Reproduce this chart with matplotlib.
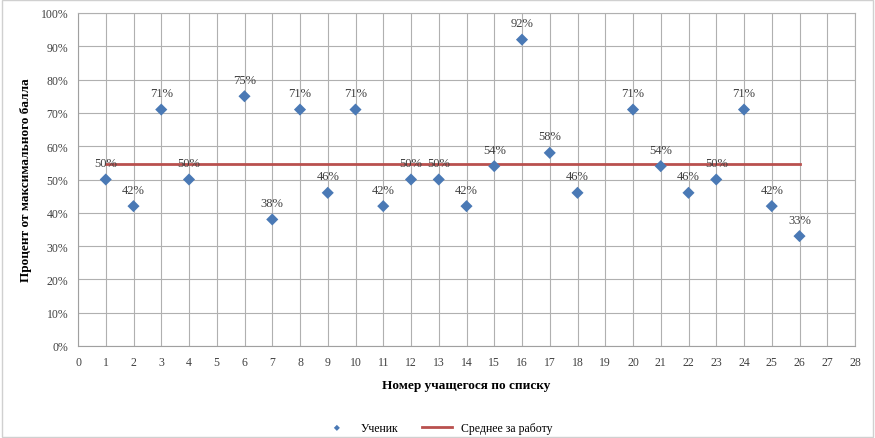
import numpy as np
import matplotlib.pyplot as plt
from matplotlib.ticker import PercentFormatter, MultipleLocator

plt.rcParams['font.family'] = ['Liberation Serif', 'DejaVu Serif']

# номер ученика и процент от максимального балла
students = [1, 2, 3, 4, 6, 7, 8, 9, 10, 11, 12, 13, 14, 15, 16, 17, 18, 20, 21, 22, 23, 24, 25, 26]
scores = [50, 42, 71, 50, 75, 38, 71, 46, 71, 42, 50, 50, 42, 54, 92, 58, 46, 71, 54, 46, 50, 71, 42, 33]
mean_range = [1, 26]

mean_score = np.mean(scores)

fig = plt.figure(figsize=(8.75, 4.39), dpi=100)
ax = fig.add_axes([78 / 875, 1 - 347 / 439, 777 / 875, 333 / 439])

ax.plot(mean_range, [mean_score, mean_score], color='#B9504E', linewidth=2,
        label='Среднее за работу', zorder=2)
ax.scatter(students, scores, marker='D', s=38, color='#4A79B5', edgecolors='none',
           label='Ученик', zorder=3)

for x, y in zip(students, scores):
    ax.annotate(f'{y}%', (x, y), xytext=(0, 7.5), textcoords='offset points',
                ha='center', va='bottom', fontsize=9, color='#404040', zorder=4)

ax.set_xlim(0, 28)
ax.set_ylim(0, 100)
ax.xaxis.set_major_locator(MultipleLocator(1))
ax.yaxis.set_major_locator(MultipleLocator(10))
ax.yaxis.set_major_formatter(PercentFormatter(decimals=0))
ax.grid(True, color='#B0B0B0', linewidth=0.8)
ax.set_axisbelow(True)
for side in ['top', 'right']:
    ax.spines[side].set_color('#B0B0B0')
for side in ['left', 'bottom']:
    ax.spines[side].set_color('#A0A0A0')
ax.tick_params(length=0, labelsize=8.5, colors='#404040', pad=7)

ax.set_xlabel('Номер учащегося по списку', fontsize=9.5, fontweight='bold', labelpad=8)
ax.set_ylabel('Процент от максимального балла', fontsize=9.5, fontweight='bold', labelpad=6)

handles, labels = ax.get_legend_handles_labels()
fig.legend(handles[::-1], labels[::-1], loc='lower center', bbox_to_anchor=(0.5, -0.015),
           ncol=2, frameon=False, fontsize=8.5, handlelength=2.5, columnspacing=2,
           markerscale=0.5)

fig.patches.append(plt.Rectangle((0.002, 0.002), 0.996, 0.996, transform=fig.transFigure,
                                 fill=False, edgecolor='#D0D0D0', linewidth=1))

fig.savefig('out.png', dpi=100)
